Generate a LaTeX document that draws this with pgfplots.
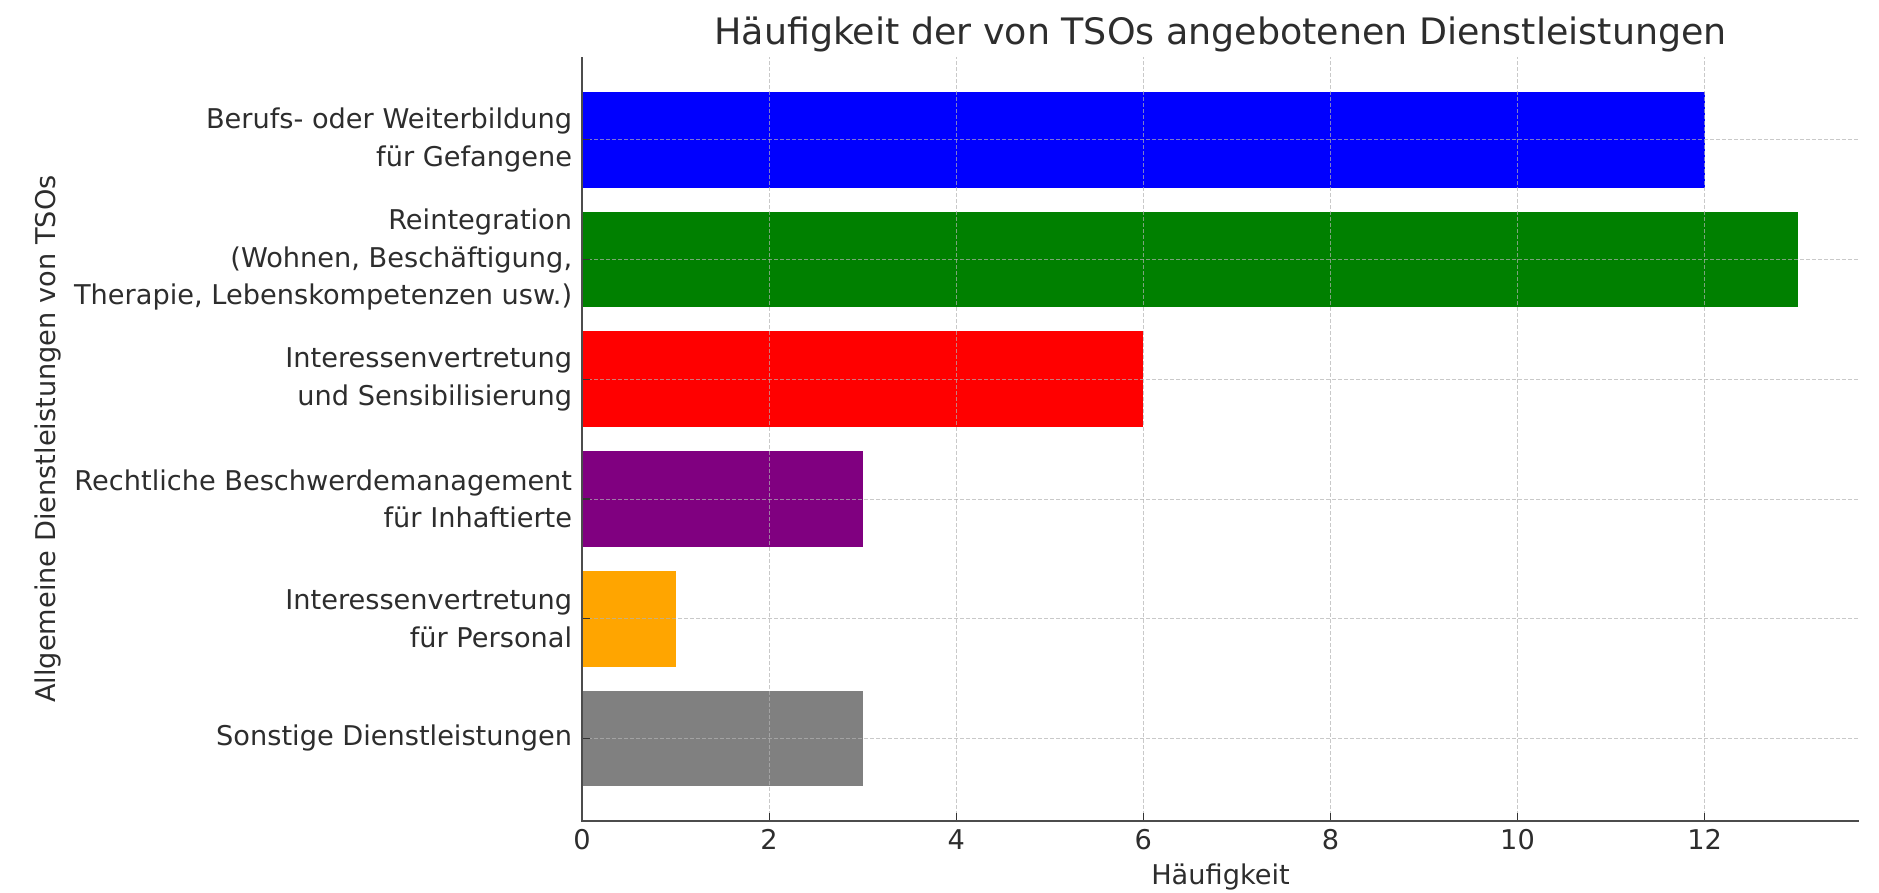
\documentclass[border=0pt]{standalone}
\usepackage{fontspec}
\setmainfont{DejaVu Sans}
\usepackage{pgfplots}
\pgfplotsset{compat=1.18}
\definecolor{mblue}{RGB}{0,0,255}
\definecolor{mgreen}{RGB}{0,128,0}
\definecolor{mred}{RGB}{255,0,0}
\definecolor{mpurple}{RGB}{128,0,128}
\definecolor{morange}{RGB}{255,165,0}
\definecolor{mgray}{RGB}{128,128,128}
\definecolor{txt}{RGB}{45,45,45}
\begin{document}
\begin{tikzpicture}
\useasboundingbox (0,0) rectangle (939.5pt,446.5pt);
\begin{axis}[
  at={(291pt,36pt)}, anchor=south west,
  scale only axis, width=638.5pt, height=381.85pt,
  xmin=0, xmax=13.65, ymin=-0.69, ymax=5.69,
  axis line style={draw=none},
  axis on top,
  xtick pos=bottom, ytick pos=left,
  major tick length=4pt,
  tick style={black!80, line width=0.6pt},
  xtick={0,2,4,6,8,10,12},
  ytick={0,1,2,3,4,5},
  yticklabels={
    {Sonstige Dienstleistungen},
    {Interessenvertretung\\für Personal},
    {Rechtliche Beschwerdemanagement\\für Inhaftierte},
    {Interessenvertretung\\und Sensibilisierung},
    {Reintegration\\(Wohnen, Beschäftigung,\\Therapie, Lebenskompetenzen usw.)},
    {Berufs- oder Weiterbildung\\für Gefangene}},
  /pgf/number format/assume math mode=true,
  xticklabel style={font=\fontsize{13.6}{16}\selectfont, text=txt, anchor=base, inner sep=0pt, yshift=-14.5pt},
  yticklabel style={font=\fontsize{13.6}{18.7}\selectfont, text=txt, align=right, inner sep=0pt, xshift=-4.75pt},
  grid=major,
  major grid style={gray!60, opacity=0.7, line width=0.45pt, dash pattern=on 2pt off 1pt},
  title={Häufigkeit der von TSOs angebotenen Dienstleistungen},
  every axis title/.style={at={(0.5,1.017)}, anchor=base, font=\fontsize{18.2}{22}\selectfont, text=txt, inner sep=0pt},
  xlabel={Häufigkeit},
  every axis x label/.style={at={(0.5,-0.0838)}, anchor=base, font=\fontsize{13.6}{16}\selectfont, text=txt, inner sep=0pt},
  ylabel={Allgemeine Dienstleistungen von TSOs},
  every axis y label/.style={at={(-0.4178,0.5)}, rotate=90, anchor=center, font=\fontsize{13.6}{16}\selectfont, text=txt, inner sep=0pt},
  after end axis/.code={
    \draw[black!70, line width=0.8pt] (rel axis cs:0,1) -- (rel axis cs:0,0) -- (rel axis cs:1,0);
  },
  xtick align=inside, ytick align=inside,
]
\addplot[xbar, bar width=0.8, bar shift=0pt, fill=mblue, draw=none] coordinates {(12,5)};
\addplot[xbar, bar width=0.8, bar shift=0pt, fill=mgreen, draw=none] coordinates {(13,4)};
\addplot[xbar, bar width=0.8, bar shift=0pt, fill=mred, draw=none] coordinates {(6,3)};
\addplot[xbar, bar width=0.8, bar shift=0pt, fill=mpurple, draw=none] coordinates {(3,2)};
\addplot[xbar, bar width=0.8, bar shift=0pt, fill=morange, draw=none] coordinates {(1,1)};
\addplot[xbar, bar width=0.8, bar shift=0pt, fill=mgray, draw=none] coordinates {(3,0)};
\end{axis}
\end{tikzpicture}
\end{document}
